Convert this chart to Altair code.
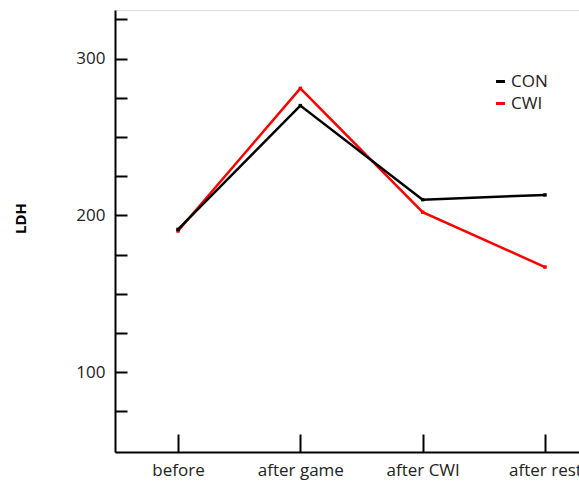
import altair as alt
import pandas as pd

categories = ["before", "after game", "after CWI", "after rest"]
con_values = [191, 270, 210, 213]
cwi_values = [190, 281, 202, 167]
series_names = ["CON", "CWI"]
series_colors = ["#000000", "#ff0000"]

rows = []
for i, v in enumerate(cwi_values):
    rows.append({"idx": i, "time": categories[i], "group": "CWI", "LDH": v})
for i, v in enumerate(con_values):
    rows.append({"idx": i, "time": categories[i], "group": "CON", "LDH": v})
df = pd.DataFrame(rows)

label_expr = "[" + ",".join('"%s"' % c for c in categories) + "][datum.value]"
FONT = "Open Sans"

chart = alt.Chart(df).mark_line(
    strokeWidth=2.5,
    point=alt.OverlayMarkDef(shape="square", filled=True, size=12),
).encode(
    x=alt.X(
        "idx:Q",
        scale=alt.Scale(domain=[-0.515, 3.278], nice=False, zero=False),
        axis=alt.Axis(
            title=None,
            values=[0, 1, 2, 3],
            labelExpr=label_expr,
            grid=False,
            domainColor="#000000",
            domainWidth=2,
            tickColor="#000000",
            tickWidth=2,
            tickSize={"expr": "-18"},
            labelPadding=28,
            labelFont=FONT,
            labelFontSize=17,
            labelColor="#222222",
        ),
    ),
    y=alt.Y(
        "LDH:Q",
        scale=alt.Scale(domain=[49, 331], nice=False, zero=False),
        axis=alt.Axis(
            title="LDH",
            values=[75, 100, 125, 150, 175, 200, 225, 250, 275, 300, 325],
            labelExpr="datum.value % 100 == 0 ? datum.label : ''",
            grid=False,
            domainColor="#000000",
            domainWidth=2,
            tickColor="#000000",
            tickWidth=2,
            tickSize={"expr": "-12"},
            labelPadding=22,
            labelFont=FONT,
            labelFontSize=17,
            labelColor="#222222",
            titleFont=FONT,
            titleFontSize=15,
            titleFontWeight="bold",
            titleColor="#000000",
            titleX=-87,
            titleY=208,
        ),
    ),
    color=alt.Color(
        "group:N",
        scale=alt.Scale(domain=series_names, range=series_colors),
        legend=alt.Legend(
            title=None,
            orient="none",
            legendX=377,
            legendY=63,
            symbolType="stroke",
            symbolStrokeWidth=3,
            symbolSize=80,
            labelFont=FONT,
            labelFontSize=17,
            labelColor="#222222",
            labelOffset=2,
            rowPadding=4,
        ),
    ),
    detail="group:N",
).properties(
    width=464,
    height=442,
    autosize=alt.AutoSizeParams(type="none"),
    padding={"left": 115, "top": 10, "right": 0, "bottom": 30},
).configure_view(stroke=None).configure(background="white")

chart.save("out.html", embed_options={"renderer": "svg", "actions": False})
